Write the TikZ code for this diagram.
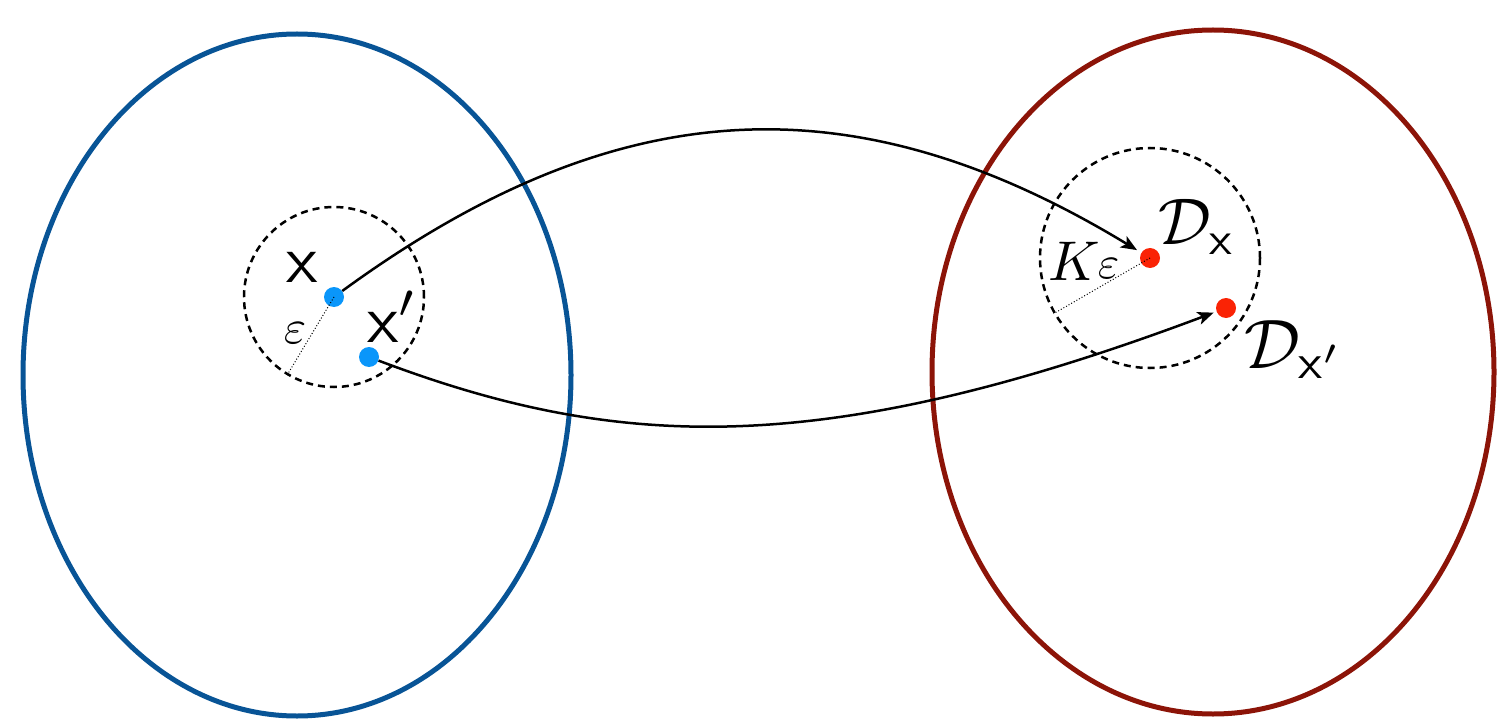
\documentclass[tikz,border=0pt]{standalone}
\usetikzlibrary{arrows.meta}

\definecolor{domblue}{RGB}{8,84,150}
\definecolor{codred}{RGB}{140,20,8}
\definecolor{ptblue}{RGB}{10,150,250}
\definecolor{ptred}{RGB}{250,35,5}

\tikzset{
  region/.style={line width=5pt},
  nbhd/.style={circle, draw, dash pattern=on 7pt off 5pt, line width=2.5pt, inner sep=0pt},
  dot/.style={circle, inner sep=0pt, minimum size=20pt},
  radiusline/.style={dotted, line width=1pt},
  mapsto/.style={line width=2.5pt, -{Stealth[length=16pt,width=13pt,inset=4pt]}},
  lbl/.style={inner sep=0pt, anchor=base west},
}

\begin{document}
\begin{tikzpicture}[x=1pt,y=-1pt]
  \useasboundingbox (0,0) rectangle (1497,722);

  % input space and output space
  \draw[region, domblue] (297,375) ellipse [x radius=274, y radius=341];
  \draw[region, codred] (1213,372) ellipse [x radius=281, y radius=342];

  % neighbourhoods
  \node[nbhd, minimum size=180pt] (ballx) at (334,297) {};
  \node[nbhd, minimum size=220pt] (balld) at (1150,258) {};

  % points
  \node[dot, fill=ptblue] (xpt) at (334,297) {};
  \node[dot, fill=ptblue] (xppt) at (369,357) {};
  \node[dot, fill=ptred] (dx) at (1150,258) {};
  \node[dot, fill=ptred] (dxp) at (1226,308) {};

  % radii
  \draw[radiusline] (xpt.center) -- (ballx.239);
  \draw[radiusline] (dx.center) -- (balld.210);

  % maps
  \draw[mapsto, shorten >=5pt] (xpt) .. controls (615,92) and (852,77) .. (dx);
  \draw[mapsto, shorten >=3pt] (xppt) .. controls (615,450) and (819,461) .. (dxp);

  % labels
  \node[lbl, scale=6.8] (lx) at (285,283) {\textsf{x}};
  \node[lbl, scale=6.8] (lxp) at (366,342) {\textsf{x}$'$};
  \node[lbl, scale=4.8] (leps) at (283,343) {$\varepsilon$};
  \node[lbl, scale=5.6] (lK) at (1047,280) {$K$};
  \node[lbl, scale=4.6] (lKeps) at (1097,278) {$\varepsilon$};
  \node[lbl, scale=6.6] (ldx) at (1157,245) {$\mathcal{D}_{\mathsf{x}}$};
  \node[lbl, scale=7.0] (ldxp) at (1243,368) {$\mathcal{D}_{\mathsf{x}'}$};
\end{tikzpicture}
\end{document}
